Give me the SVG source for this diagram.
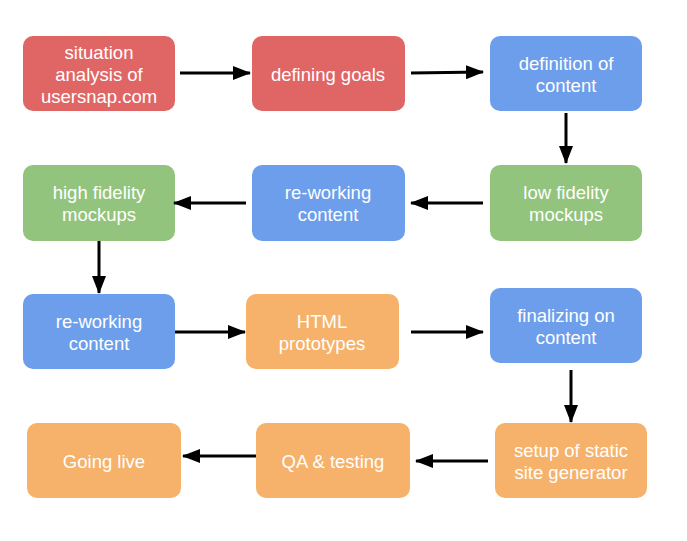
<svg xmlns="http://www.w3.org/2000/svg" width="687" height="541" viewBox="0 0 687 541">
<defs>
<style>
.box{stroke:none}
.red{fill:#e06666}
.blue{fill:#6d9eeb}
.green{fill:#93c47d}
.orange{fill:#f6b26b}
text{font-family:"Liberation Sans",Arial,sans-serif;font-size:18.5px;fill:#ffffff;text-anchor:middle}
.conn line{stroke:#000;stroke-width:3;marker-end:url(#ah)}
</style>
<marker id="ah" markerUnits="userSpaceOnUse" viewBox="0 0 18 14" refX="17" refY="7" markerWidth="18" markerHeight="14" orient="auto">
<path d="M0,0 L18,7 L0,14 Z" fill="#000"/>
</marker>
</defs>
<rect width="687" height="541" fill="#ffffff"/>

<g id="n1"><rect class="box red" x="23" y="36" width="152" height="75" rx="10"/>
<text x="99" y="59">situation</text><text x="99" y="81">analysis of</text><text x="99" y="103">usersnap.com</text></g>
<g id="n2"><rect class="box red" x="252" y="36" width="153" height="75" rx="10"/>
<text x="328" y="81">defining goals</text></g>
<g id="n3"><rect class="box blue" x="490" y="36" width="152" height="75" rx="10"/>
<text x="566" y="70">definition of</text><text x="566" y="92">content</text></g>

<g id="n4"><rect class="box green" x="490" y="165" width="152" height="76" rx="10"/>
<text x="566" y="199">low fidelity</text><text x="566" y="221">mockups</text></g>
<g id="n5"><rect class="box blue" x="252" y="165" width="153" height="76" rx="10"/>
<text x="328" y="199">re-working</text><text x="328" y="221">content</text></g>
<g id="n6"><rect class="box green" x="23" y="165" width="152" height="76" rx="10"/>
<text x="99" y="199">high fidelity</text><text x="99" y="221">mockups</text></g>

<g id="n7"><rect class="box blue" x="23" y="294" width="152" height="75" rx="10"/>
<text x="99" y="328">re-working</text><text x="99" y="350">content</text></g>
<g id="n8"><rect class="box orange" x="246" y="294" width="153" height="75" rx="10"/>
<text x="322" y="328">HTML</text><text x="322" y="350">prototypes</text></g>
<g id="n9"><rect class="box blue" x="490" y="288" width="152" height="75" rx="10"/>
<text x="566" y="322">finalizing on</text><text x="566" y="344">content</text></g>

<g id="n10"><rect class="box orange" x="495" y="423" width="152" height="75" rx="10"/>
<text x="571" y="457">setup of static</text><text x="571" y="479">site generator</text></g>
<g id="n11"><rect class="box orange" x="256" y="423" width="154" height="75" rx="10"/>
<text x="333" y="468">QA &amp; testing</text></g>
<g id="n12"><rect class="box orange" x="27" y="423" width="154" height="75" rx="10"/>
<text x="104" y="468">Going live</text></g>

<g id="connectors" class="conn">
<line x1="180" y1="73" x2="250" y2="73"/>
<line x1="411" y1="73" x2="483" y2="72"/>
<line x1="566" y1="113" x2="566" y2="163"/>
<line x1="483" y1="203" x2="411" y2="203"/>
<line x1="246" y1="203" x2="174" y2="203"/>
<line x1="99" y1="241" x2="99" y2="293"/>
<line x1="175" y1="332" x2="245" y2="332"/>
<line x1="411" y1="332" x2="483" y2="332"/>
<line x1="571" y1="370" x2="571" y2="422"/>
<line x1="488" y1="461" x2="416" y2="461"/>
<line x1="256" y1="456" x2="183" y2="456"/>
</g>
</svg>
